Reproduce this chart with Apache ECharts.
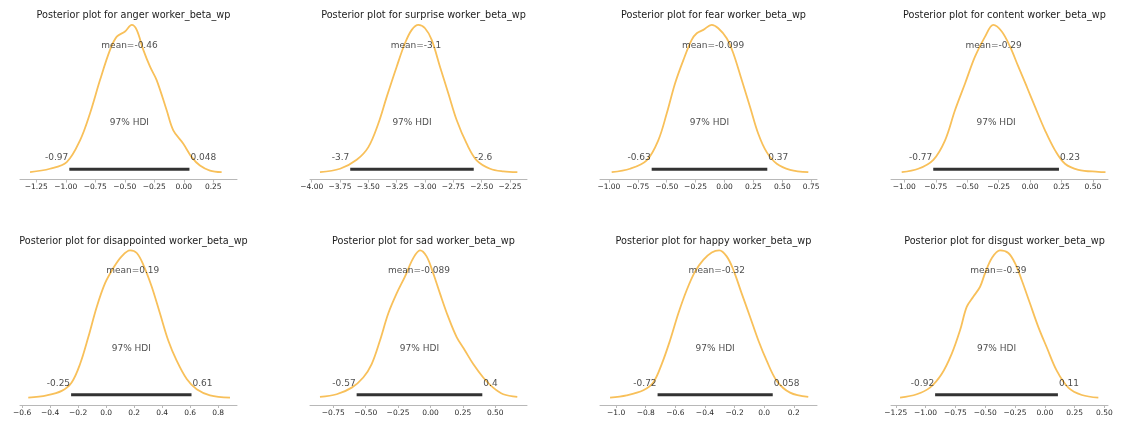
<!DOCTYPE html>
<html><head><meta charset="utf-8">
<script src="https://cdn.jsdelivr.net/npm/echarts@6/dist/echarts.min.js"></script>
<style>html,body{margin:0;padding:0;background:#fff}#c{width:1123px;height:423px}</style>
</head><body><div id="c"></div>
<script>
// ---- data ----
const emotions = ['anger', 'surprise', 'fear', 'content', 'disappointed', 'sad', 'happy', 'disgust'];
const means    = [-0.46, -3.08, -0.099, -0.29, 0.19, -0.089, -0.32, -0.39];
const hdiLow   = [-0.97, -3.66, -0.63, -0.77, -0.25, -0.57, -0.72, -0.92];
const hdiHigh  = [0.048, -2.57, 0.37, 0.23, 0.61, 0.40, 0.058, 0.11];
const axisMin  = [-1.388, -4.015, -1.077, -1.106, -0.615, -0.93, -1.109, -1.29];
const axisMax  = [0.451, -2.10, 0.80, 0.62, 0.935, 0.745, 0.357, 0.53];
const tickValues = [
  [-1.25, -1.0, -0.75, -0.5, -0.25, 0, 0.25],
  [-4.0, -3.75, -3.5, -3.25, -3.0, -2.75, -2.5, -2.25],
  [-1.0, -0.75, -0.5, -0.25, 0, 0.25, 0.5, 0.75],
  [-1.0, -0.75, -0.5, -0.25, 0, 0.25, 0.5],
  [-0.6, -0.4, -0.2, 0.0, 0.2, 0.4, 0.6, 0.8],
  [-0.75, -0.5, -0.25, 0, 0.25, 0.5],
  [-1.0, -0.8, -0.6, -0.4, -0.2, 0.0, 0.2],
  [-1.25, -1.0, -0.75, -0.5, -0.25, 0, 0.25, 0.5]
];
const tickDecimals = [2, 2, 2, 2, 1, 2, 1, 2];

// KDE curves: [value, density relative to peak]
const angerDensity = [[-1.303,0],[-1.134,0.023],[-0.992,0.068],[-0.879,0.216],[-0.795,0.398],[-0.710,0.625],[-0.625,0.83],[-0.568,0.92],[-0.498,0.955],[-0.441,1.0],[-0.399,0.966],[-0.343,0.83],[-0.286,0.716],[-0.230,0.625],[-0.145,0.42],[-0.089,0.284],[-0.004,0.193],[0.067,0.102],[0.137,0.045],[0.222,0.011],[0.321,0]];
const surpriseDensity = [[-3.927,0],[-3.750,0.023],[-3.603,0.084],[-3.500,0.17],[-3.412,0.33],[-3.338,0.511],[-3.250,0.716],[-3.177,0.875],[-3.117,0.966],[-3.059,1.0],[-3.000,0.977],[-2.941,0.898],[-2.868,0.716],[-2.794,0.534],[-2.720,0.352],[-2.632,0.193],[-2.544,0.08],[-2.426,0.023],[-2.309,0.005],[-2.185,0]];
const fearDensity = [[-0.976,0],[-0.817,0.023],[-0.673,0.08],[-0.573,0.216],[-0.500,0.398],[-0.428,0.602],[-0.356,0.761],[-0.284,0.898],[-0.240,0.943],[-0.183,0.966],[-0.111,1.0],[-0.054,0.977],[0.019,0.909],[0.076,0.807],[0.149,0.625],[0.221,0.443],[0.292,0.261],[0.365,0.136],[0.452,0.057],[0.567,0.016],[0.725,0]];
const contentDensity = [[-1.021,0],[-0.889,0.023],[-0.769,0.084],[-0.676,0.216],[-0.597,0.42],[-0.517,0.602],[-0.438,0.784],[-0.358,0.92],[-0.292,1.0],[-0.225,0.955],[-0.159,0.852],[-0.093,0.716],[-0.026,0.58],[0.040,0.443],[0.119,0.284],[0.199,0.148],[0.278,0.057],[0.384,0.016],[0.543,0.002],[0.600,0]];
const disappointedDensity = [[-0.556,0],[-0.424,0.016],[-0.317,0.046],[-0.246,0.103],[-0.186,0.228],[-0.127,0.411],[-0.067,0.616],[-0.008,0.776],[0.051,0.879],[0.111,0.959],[0.171,1.0],[0.219,0.982],[0.266,0.902],[0.326,0.753],[0.385,0.571],[0.444,0.388],[0.504,0.251],[0.576,0.126],[0.647,0.057],[0.742,0.016],[0.885,0]];
const sadDensity = [[-0.853,0.005],[-0.724,0.023],[-0.608,0.068],[-0.519,0.137],[-0.454,0.228],[-0.390,0.388],[-0.326,0.571],[-0.261,0.708],[-0.197,0.822],[-0.133,0.947],[-0.081,1.0],[-0.030,0.959],[0.021,0.845],[0.073,0.708],[0.137,0.548],[0.202,0.411],[0.266,0.32],[0.330,0.228],[0.407,0.137],[0.484,0.068],[0.562,0.023],[0.670,0.005]];
const happyDensity = [[-1.041,0],[-0.929,0.016],[-0.816,0.05],[-0.749,0.103],[-0.692,0.228],[-0.636,0.388],[-0.580,0.571],[-0.523,0.731],[-0.467,0.856],[-0.411,0.936],[-0.354,0.986],[-0.303,1.0],[-0.253,0.959],[-0.208,0.868],[-0.152,0.708],[-0.095,0.548],[-0.039,0.388],[0.017,0.251],[0.085,0.114],[0.175,0.034],[0.298,0.005]];
const disgustDensity = [[-1.214,0],[-1.074,0.023],[-0.963,0.068],[-0.865,0.16],[-0.781,0.297],[-0.711,0.457],[-0.655,0.616],[-0.600,0.685],[-0.543,0.753],[-0.501,0.845],[-0.445,0.947],[-0.376,1.0],[-0.306,0.982],[-0.250,0.913],[-0.194,0.799],[-0.124,0.639],[-0.054,0.479],[0.016,0.342],[0.100,0.183],[0.197,0.068],[0.310,0.018],[0.449,0]];
const densities = [angerDensity, surpriseDensity, fearDensity, contentDensity, disappointedDensity, sadDensity, happyDensity, disgustDensity];

// ---- layout / style ----
const FONT = 'DejaVu Sans';
const TXT = '#1c1c1c';
const CURVE = '#f8c05a';
const gridLeft = [20, 310, 600, 891];
const gridWidth = 217;
const gridTop = [17.5, 243];
const gridHeight = 162;
const titleTop = [5, 231];

const fmt2 = v => String(Number(v.toPrecision(2)));
const tickFmt = d => v => v.toFixed(d).replace('-', '\u2212');

const grids = [], xAxes = [], yAxes = [], series = [], titles = [];
emotions.forEach((emo, i) => {
  const row = Math.floor(i / 4), col = i % 4;
  grids.push({left: gridLeft[col], top: gridTop[row], width: gridWidth, height: gridHeight, containLabel: false});
  titles.push({
    text: 'Posterior plot for ' + emo + ' worker_beta_wp',
    left: gridLeft[col] + gridWidth / 2, top: titleTop[row], textAlign: 'center',
    textStyle: {fontFamily: FONT, fontSize: 9.7, fontWeight: 'normal', color: TXT}
  });
  xAxes.push({
    type: 'value', gridIndex: i, min: axisMin[i], max: axisMax[i],
    splitLine: {show: false},
    axisLine: {show: true, onZero: false, lineStyle: {color: '#b8b8b8', width: 1}},
    axisTick: {show: true, length: 3, customValues: tickValues[i], lineStyle: {color: '#b8b8b8'}},
    axisLabel: {customValues: tickValues[i], formatter: tickFmt(tickDecimals[i]), margin: 4,
      fontFamily: FONT, fontSize: 7.5, color: '#2a2a2a'}
  });
  yAxes.push({type: 'value', gridIndex: i, min: -0.05, max: 1.05, show: false});
  series.push({
    type: 'line', xAxisIndex: i, yAxisIndex: i, data: densities[i], smooth: 0.35,
    showSymbol: false, lineStyle: {color: CURVE, width: 1.8}, silent: true, z: 2
  });
  series.push({
    type: 'line', xAxisIndex: i, yAxisIndex: i, data: [[hdiLow[i], 0.02], [hdiHigh[i], 0.02]],
    showSymbol: false, lineStyle: {color: '#333', width: 3, cap: 'butt'}, silent: true, z: 3
  });
  const lbl = {show: true, fontFamily: FONT, fontSize: 9, color: TXT};
  series.push({
    type: 'scatter', xAxisIndex: i, yAxisIndex: i, symbolSize: 0, silent: true, z: 4,
    data: [
      {value: [means[i], 0.86], label: Object.assign({}, lbl, {position: 'inside', formatter: 'mean=' + fmt2(means[i])})},
      {value: [(hdiLow[i] + hdiHigh[i]) / 2, 0.333], label: Object.assign({}, lbl, {position: 'inside', formatter: '97% HDI'})},
      {value: [hdiLow[i], 0.097], label: Object.assign({}, lbl, {position: 'left', distance: 1, formatter: fmt2(hdiLow[i])})},
      {value: [hdiHigh[i], 0.097], label: Object.assign({}, lbl, {position: 'right', distance: 1, formatter: fmt2(hdiHigh[i])})}
    ]
  });
});

const chart = echarts.init(document.getElementById('c'), null, {renderer: 'canvas'});
chart.setOption({
  backgroundColor: '#ffffff', animation: false,
  title: titles, grid: grids, xAxis: xAxes, yAxis: yAxes, series: series
});
</script></body></html>
